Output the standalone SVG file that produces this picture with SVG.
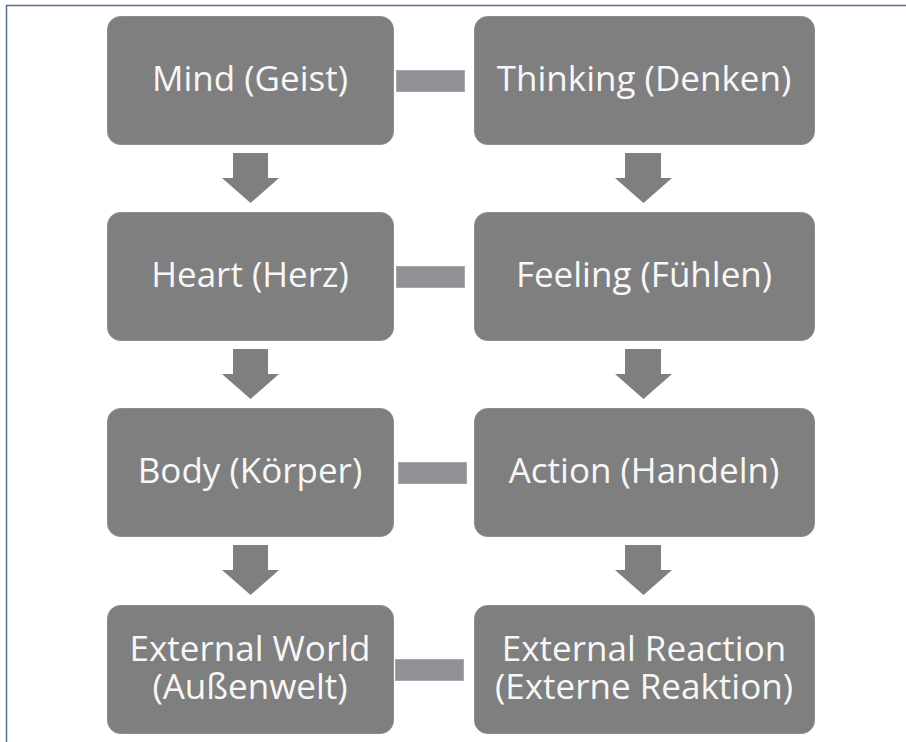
<svg xmlns="http://www.w3.org/2000/svg" width="906" height="742" viewBox="0 0 906 742">
<style>
.box{fill:#7f7f7f;stroke:#8c8c8c;stroke-width:1}
.lbl{font-family:"Open Sans","Noto Sans","Liberation Sans",sans-serif;font-size:35px;fill:#f7f7f7;text-anchor:middle}
.bar{fill:#909195;stroke:#a6a7ab;stroke-width:1}
.arr{fill:#7f7f7f}
</style>
<rect x="0" y="0" width="906" height="742" fill="#ffffff"/>
<path d="M6.5,742 V5.5 H906" fill="none" stroke="#5b6a9a" stroke-width="1.5"/>
<g id="connectors">
<rect class="bar" x="396.5" y="70.5" width="68" height="21"/>
<rect class="bar" x="396.5" y="266.5" width="68" height="21"/>
<rect class="bar" x="398.5" y="462.5" width="68" height="21"/>
<rect class="bar" x="395.5" y="659.5" width="68" height="21"/>
<path class="arr" d="M233,153 H268 V178 H279 L250.5,203 L222,178 H233 Z"/>
<path class="arr" d="M233,349 H268 V374 H279 L250.5,399 L222,374 H233 Z"/>
<path class="arr" d="M233,545 H268 V570 H279 L250.5,595 L222,570 H233 Z"/>
<path class="arr" d="M625,153 H661 V178 H672 L643.5,203 L615,178 H625 Z"/>
<path class="arr" d="M625,349 H661 V374 H672 L643.5,399 L615,374 H625 Z"/>
<path class="arr" d="M625,545 H661 V570 H672 L643.5,595 L615,570 H625 Z"/>
</g>
<g id="mind"><rect class="box" x="107.5" y="16.5" width="286" height="128" rx="13"/><text class="lbl" x="250" y="91">Mind (Geist)</text></g>
<g id="thinking"><rect class="box" x="474.5" y="16.5" width="340" height="128" rx="13"/><text class="lbl" x="644" y="91">Thinking (Denken)</text></g>
<g id="heart"><rect class="box" x="107.5" y="212.5" width="286" height="128" rx="13"/><text class="lbl" x="250" y="287">Heart (Herz)</text></g>
<g id="feeling"><rect class="box" x="474.5" y="212.5" width="340" height="128" rx="13"/><text class="lbl" x="644" y="287">Feeling (Fühlen)</text></g>
<g id="body"><rect class="box" x="107.5" y="408.5" width="286" height="128" rx="13"/><text class="lbl" x="250" y="483">Body (Körper)</text></g>
<g id="action"><rect class="box" x="474.5" y="408.5" width="340" height="128" rx="13"/><text class="lbl" x="644" y="483">Action (Handeln)</text></g>
<g id="external-world"><rect class="box" x="107.5" y="605.5" width="286" height="128" rx="13"/><text class="lbl" x="250" y="661">External World</text><text class="lbl" x="250" y="699">(Außenwelt)</text></g>
<g id="external-reaction"><rect class="box" x="474.5" y="605.5" width="340" height="128" rx="13"/><text class="lbl" x="644" y="661">External Reaction</text><text class="lbl" x="644" y="699">(Externe Reaktion)</text></g>
</svg>
